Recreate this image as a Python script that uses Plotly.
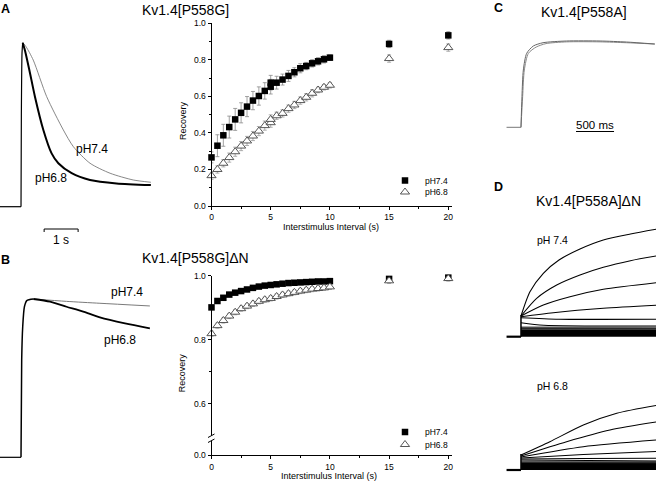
import plotly.graph_objects as go

W, H = 656, 481
FONT = "Liberation Sans, Arial, sans-serif"

# ---- recovery data, Kv1.4[P558G] (panel A) ----
rec_x_a = [0, 0.5, 1, 1.5, 2, 2.5, 3, 3.5, 4, 4.5, 5, 5, 5.5, 6, 6.5, 7, 7.5, 8, 8.5, 9, 9.5, 10, 15, 20]
a_ph74 = [0.266, 0.33, 0.387, 0.432, 0.474, 0.51, 0.544, 0.577, 0.602, 0.63, 0.675, 0.653, 0.675, 0.692,
          0.712, 0.732, 0.754, 0.766, 0.781, 0.792, 0.803, 0.812, 0.887, 0.934]
a_ph74_err = [0.03, 0.06, 0.06, 0.06, 0.06, 0.055, 0.055, 0.05, 0.05, 0.045, 0.04, 0.04, 0.035, 0.03,
              0.03, 0.025, 0.025, 0.02, 0.02, 0.02, 0.02, 0.015, 0.02, 0.02]
a_ph68 = [0.166, 0.2, 0.234, 0.265, 0.297, 0.328, 0.356, 0.383, 0.41, 0.44, 0.456, 0.474, 0.494, 0.507,
          0.533, 0.553, 0.577, 0.595, 0.617, 0.635, 0.65, 0.661, 0.807, 0.867]
a_ph68_err = [0.02, 0.02, 0.02, 0.025, 0.025, 0.025, 0.025, 0.025, 0.025, 0.025, 0.025, 0.025, 0.02, 0.02,
              0.02, 0.02, 0.02, 0.02, 0.02, 0.015, 0.015, 0.015, 0.02, 0.02]

# ---- recovery data, Kv1.4[P558G]dN (panel B) ----
rec_x_b = [0, 0.5, 1, 1.5, 2, 2.5, 3, 3.5, 4, 4.5, 5, 5.5, 6, 6.5, 7, 7.5, 8, 8.5, 9, 9.5, 10, 15, 20]
b_ph74 = [0.901, 0.921, 0.931, 0.941, 0.947, 0.952, 0.957, 0.962, 0.966, 0.969, 0.971, 0.973, 0.975,
          0.977, 0.978, 0.979, 0.98, 0.981, 0.982, 0.982, 0.983, 0.99, 0.994]
b_ph74_err = [0.006] * 23
b_ph68 = [0.819, 0.844, 0.86, 0.874, 0.886, 0.897, 0.905, 0.912, 0.92, 0.925, 0.929, 0.935, 0.94,
          0.944, 0.948, 0.952, 0.955, 0.958, 0.96, 0.962, 0.965, 0.984, 0.991]
b_ph68_err = [0.008] * 23

# ---- current traces (time in s, normalised current) ----
a_base_t = [-0.62, 0.0]
a_rise_t = [0.0, 0.01, 0.03, 0.05]
a_rise_v = [0.0, 0.55, 0.94, 1.0]
a74_t = [0.05, 0.15, 0.36, 0.755, 1.245, 1.54, 2.03, 2.62, 3.3, 3.82]
a74_v = [1.0, 0.975, 0.894, 0.671, 0.468, 0.366, 0.265, 0.204, 0.163, 0.149]
a68_t = [0.05, 0.12, 0.245, 0.41, 0.657, 0.90, 1.098, 1.49, 2.03, 2.81, 3.82]
a68_v = [1.0, 0.95, 0.834, 0.671, 0.468, 0.325, 0.265, 0.204, 0.163, 0.142, 0.132]

b_base_t = [-0.62, 0.0]
b_rise_t = [0.0, 0.02, 0.05, 0.1, 0.17, 0.363]
b_rise_v = [0.0, 0.615, 0.825, 0.951, 0.99, 1.0]
b74_t = [0.363, 1.34, 2.32, 3.79]
b74_v = [1.0, 0.985, 0.973, 0.956]
b68_t = [0.363, 0.853, 1.34, 1.83, 2.32, 3.06, 3.79]
b68_v = [1.0, 0.983, 0.951, 0.92, 0.884, 0.846, 0.815]

c_base_t = [-0.19, 0.0]
c1_t = [0.0, 0.013, 0.031, 0.075, 0.162, 0.29, 0.6, 1.04, 1.39, 1.76]
c1_v = [0.0, 0.355, 0.664, 0.857, 0.942, 0.98, 1.0, 1.0, 0.988, 0.965]
c2_t = [0.0, 0.022, 0.044, 0.097, 0.2, 0.33, 0.6, 1.04, 1.39, 1.76]
c2_v = [0.0, 0.355, 0.664, 0.857, 0.93, 0.97, 0.99, 0.99, 0.98, 0.965]

# panel D families (arbitrary units)
d74_curves = [
    ([0, 0.118, 0.294, 0.5, 0.776, 1.083, 1.44, 1.78], [20.7, 45, 63.4, 76.7, 87.7, 96.7, 102.7, 107.5]),
    ([0, 0.206, 0.47, 0.776, 1.083, 1.44, 1.78], [20.7, 38.4, 51.7, 61.7, 69.4, 76, 80.7]),
    ([0, 0.294, 0.645, 1.083, 1.78], [20.7, 31.7, 40, 47.4, 54]),
    ([0, 0.425, 1.083, 1.78], [20, 24, 28.4, 31.4]),
    ([0, 0.5, 1.78], [19, 17.5, 17.4]),
    ([0, 0.3, 1.78], [14, 11.5, 10.7]),
]
d68_curves = [
    ([0, 0.38, 0.82, 1.26, 1.78], [15, 28.3, 45, 56.7, 64.5]),
    ([0, 0.6, 1.17, 1.78], [14, 28.3, 40, 48]),
    ([0, 0.82, 1.78], [13, 23.3, 30]),
    ([0, 0.82, 1.78], [12, 15.5, 18.5]),
    ([0, 0.8, 1.78], [11, 11.5, 11.7]),
    ([0, 1.78], [10, 9]),
]
d_base_t = [-0.19, 0.0]
d_end_t = 1.78
d74_spike, d74_band, d74_gray = 21.5, 7.5, [9.8, 9.0, 8.3]
d68_spike, d68_band, d68_gray = 16.0, 7.0, [8.8, 8.2, 7.6]


def fx(p):
    return p / W


def fy(p):
    return 1 - p / H


fig = go.Figure()

sq = dict(symbol="square", size=6.5, color="black")
tri = dict(symbol="triangle-up", size=8, color="white", line=dict(color="#444", width=0.9))

# recovery scatter A
fig.add_trace(go.Scatter(x=rec_x_a, y=a_ph74, mode="markers", name="pH7.4", legend="legend",
                         marker=sq,
                         error_y=dict(type="data", array=a_ph74_err, color="#8a8a8a", thickness=0.8, width=2),
                         cliponaxis=False, xaxis="x", yaxis="y"))
fig.add_trace(go.Scatter(x=rec_x_a, y=a_ph68, mode="markers", name="pH6.8", legend="legend2",
                         marker=tri,
                         error_y=dict(type="data", array=a_ph68_err, color="#9a9a9a", thickness=0.8, width=2),
                         cliponaxis=False, xaxis="x", yaxis="y"))
# recovery scatter B
fig.add_trace(go.Scatter(x=rec_x_b, y=b_ph74, mode="markers", name="pH7.4", legend="legend3",
                         marker=sq,
                         error_y=dict(type="data", array=b_ph74_err, color="#8a8a8a", thickness=0.8, width=2),
                         cliponaxis=False, xaxis="x2", yaxis="y2"))
fig.add_trace(go.Scatter(x=rec_x_b, y=b_ph68, mode="markers", name="pH6.8", legend="legend4",
                         marker=tri,
                         error_y=dict(type="data", array=b_ph68_err, color="#9a9a9a", thickness=0.8, width=2),
                         cliponaxis=False, xaxis="x2", yaxis="y2"))


def line(x, y, ax, color="black", width=1.0, spline=True):
    fig.add_trace(go.Scatter(x=x, y=y, mode="lines", showlegend=False, hoverinfo="skip",
                             line=dict(color=color, width=width, shape="spline" if spline else "linear",
                                       smoothing=0.7),
                             xaxis="x" + ax, yaxis="y" + ax))


# panel A traces
line(a_base_t, [0, 0], "3", width=1.2, spline=False)
line(a_rise_t, a_rise_v, "3", width=1.2)
line(a74_t, a74_v, "3", color="#7a7a7a", width=0.9)
line(a68_t, a68_v, "3", width=2.0)
# panel B traces
line(b_base_t, [0, 0], "4", width=1.2, spline=False)
line(b74_t, b74_v, "4", color="#7a7a7a", width=1.0)
line(b68_t, b68_v, "4", width=1.8)
line(b_rise_t, b_rise_v, "4", width=1.5)
# panel C traces
line(c_base_t, [0, 0], "5", color="#777", width=1.0, spline=False)
line(c2_t, c2_v, "5", color="#8a8a8a", width=1.0)
line(c1_t, c1_v, "5", color="#666", width=1.0)

# panel D families
for ax, curves, spike, band, grays in [("6", d74_curves, d74_spike, d74_band, d74_gray),
                                      ("7", d68_curves, d68_spike, d68_band, d68_gray)]:
    line(d_base_t, [0, 0], ax, width=2.2, spline=False)
    fig.add_trace(go.Scatter(x=[0, d_end_t, d_end_t, 0], y=[0, 0, band, band], fill="toself", mode="lines",
                             fillcolor="black", line=dict(width=0), showlegend=False, hoverinfo="skip",
                             xaxis="x" + ax, yaxis="y" + ax))
    for g, c in zip(grays, ["#8a8a8a", "#555", "#2a2a2a"]):
        line([0, d_end_t], [g, g * 0.97], ax, color=c, width=1.3, spline=False)
    line([0, 0], [0, spike], ax, width=1.5, spline=False)
    for t, v in curves:
        line(t, v, ax, width=1.1)

axis_common = dict(showline=True, linecolor="black", linewidth=1, ticks="outside", ticklen=3, tickwidth=1,
                   tickcolor="black", showgrid=False, zeroline=False,
                   tickfont=dict(family=FONT, size=8.5, color="black"))
hidden = dict(visible=False, showgrid=False, zeroline=False)

xr = (451.7 - 211.5) / (448.3 - 211.5) * 20


def legend_at(x, y):
    # single-entry legend, item centre lands ~15px below its top
    return dict(x=fx(x - 20), y=fy(y - 15), xanchor="left", yanchor="top", bgcolor="rgba(0,0,0,0)",
                font=dict(family=FONT, size=8.5), tracegroupgap=0, itemwidth=30)


fig.update_layout(
    width=W, height=H, margin=dict(l=0, r=0, t=0, b=0, autoexpand=False),
    paper_bgcolor="white", plot_bgcolor="rgba(0,0,0,0)",
    font=dict(family=FONT, color="black"),
    xaxis=dict(domain=[fx(211.5), fx(451.7)], range=[0, xr], anchor="y",
               tickvals=[0, 5, 10, 15, 20], minor=dict(dtick=2.5, ticklen=2, ticks="outside"), **axis_common),
    yaxis=dict(domain=[fy(206), fy(23.3)], range=[0, 1], anchor="x",
               tickvals=[0, 0.2, 0.4, 0.6, 0.8, 1.0], tickformat=".1f",
               minor=dict(dtick=0.1, ticklen=2, ticks="outside"), **axis_common),
    xaxis2=dict(domain=[fx(211.5), fx(451.7)], range=[0, xr], anchor="y2",
                tickvals=[0, 5, 10, 15, 20], minor=dict(dtick=2.5, ticklen=2, ticks="outside"), **axis_common),
    yaxis2=dict(domain=[fy(455.3), fy(275.7)], range=[0.439, 1.0], anchor="x2",
                tickvals=[0.439, 0.6, 0.8, 1.0], ticktext=["0.0", "0.6", "0.8", "1.0"],
                minor=dict(tickvals=[0.7, 0.9], ticklen=2, ticks="outside"), **axis_common),
    xaxis3=dict(domain=[fx(0), fx(152)], range=[-0.618, 3.853], anchor="y3", **hidden),
    yaxis3=dict(domain=[fy(215), fy(30)], range=[-0.0506, 1.0774], anchor="x3", **hidden),
    xaxis4=dict(domain=[fx(0), fx(152)], range=[-0.618, 3.853], anchor="y4", **hidden),
    yaxis4=dict(domain=[fy(465), fy(280)], range=[-0.0486, 1.12], anchor="x4", **hidden),
    xaxis5=dict(domain=[fx(500), fx(656)], range=[-0.276, 1.776], anchor="y5", **hidden),
    yaxis5=dict(domain=[fy(135), fy(30)], range=[-0.0892, 1.1275], anchor="x5", **hidden),
    xaxis6=dict(domain=[fx(500), fx(656)], range=[-0.276, 1.776], anchor="y6", **hidden),
    yaxis6=dict(domain=[fy(345), fy(220)], range=[-8.3, 116.7], anchor="x6", **hidden),
    xaxis7=dict(domain=[fx(500), fx(656)], range=[-0.276, 1.776], anchor="y7", **hidden),
    yaxis7=dict(domain=[fy(478), fy(395)], range=[-8.0, 75.0], anchor="x7", **hidden),
    legend=legend_at(405, 181),
    legend2=legend_at(405, 192.5),
    legend3=legend_at(405, 432.5),
    legend4=legend_at(405, 445),
)

# scale bars and y-axis break
shapes = [
    dict(type="line", xref="x3", yref="paper", x0=0.68, x1=1.68, y0=fy(229), y1=fy(229), line=dict(color="black", width=1)),
    dict(type="line", xref="x3", yref="paper", x0=0.68, x1=0.68, y0=fy(229), y1=fy(232), line=dict(color="black", width=1)),
    dict(type="line", xref="x3", yref="paper", x0=1.68, x1=1.68, y0=fy(229), y1=fy(232), line=dict(color="black", width=1)),
    dict(type="line", xref="x5", yref="paper", x0=0.724, x1=1.224, y0=fy(131.5), y1=fy(131.5), line=dict(color="black", width=1)),
    dict(type="rect", xref="paper", yref="paper", x0=fx(208), x1=fx(215), y0=fy(441), y1=fy(435.5),
         fillcolor="white", line=dict(width=0), layer="above"),
    dict(type="line", xref="paper", yref="paper", x0=fx(208), x1=fx(214.5), y0=fy(437.5), y1=fy(434),
         line=dict(color="black", width=1), layer="above"),
    dict(type="line", xref="paper", yref="paper", x0=fx(208), x1=fx(214.5), y0=fy(442.5), y1=fy(439),
         line=dict(color="black", width=1), layer="above"),
]
fig.update_layout(shapes=shapes)


def text(s, x, y, size, bold=False, angle=0):
    fig.add_annotation(text="<b>%s</b>" % s if bold else s, x=fx(x), y=fy(y), xref="paper", yref="paper",
                       showarrow=False, xanchor="center", yanchor="middle", textangle=angle,
                       font=dict(family=FONT, size=size, color="black"))


text("A", 5, 9, 12.5, bold=True)
text("B", 5, 259.5, 12.5, bold=True)
text("C", 499, 8.5, 12.5, bold=True)
text("D", 499, 187, 12.5, bold=True)
text("Kv1.4[P558G]", 186, 9.5, 14)
text("Kv1.4[P558G]ΔN", 195.5, 257.5, 14)
text("Kv1.4[P558A]", 584, 11.5, 14)
text("Kv1.4[P558A]ΔN", 588, 201, 14)
text("pH7.4", 92, 149, 12)
text("pH6.8", 51, 178, 12)
text("pH7.4", 127, 292, 12)
text("pH6.8", 120, 340, 12)
text("1 s", 61, 240, 12)
text("500 ms", 595, 125.5, 11.5)
text("pH 7.4", 552, 240, 10.5)
text("pH 6.8", 552, 386, 10.5)
text("Recovery", 183, 121, 9, angle=-90)
text("Recovery", 181.7, 372.5, 9, angle=-90)
text("Interstimulus Interval (s)", 330.5, 226.5, 9)
text("Interstimulus Interval (s)", 329, 475.5, 9)

fig.write_html("out.html", config={"displayModeBar": False},
               post_script="document.body.style.margin='0';document.body.style.padding='0';")
